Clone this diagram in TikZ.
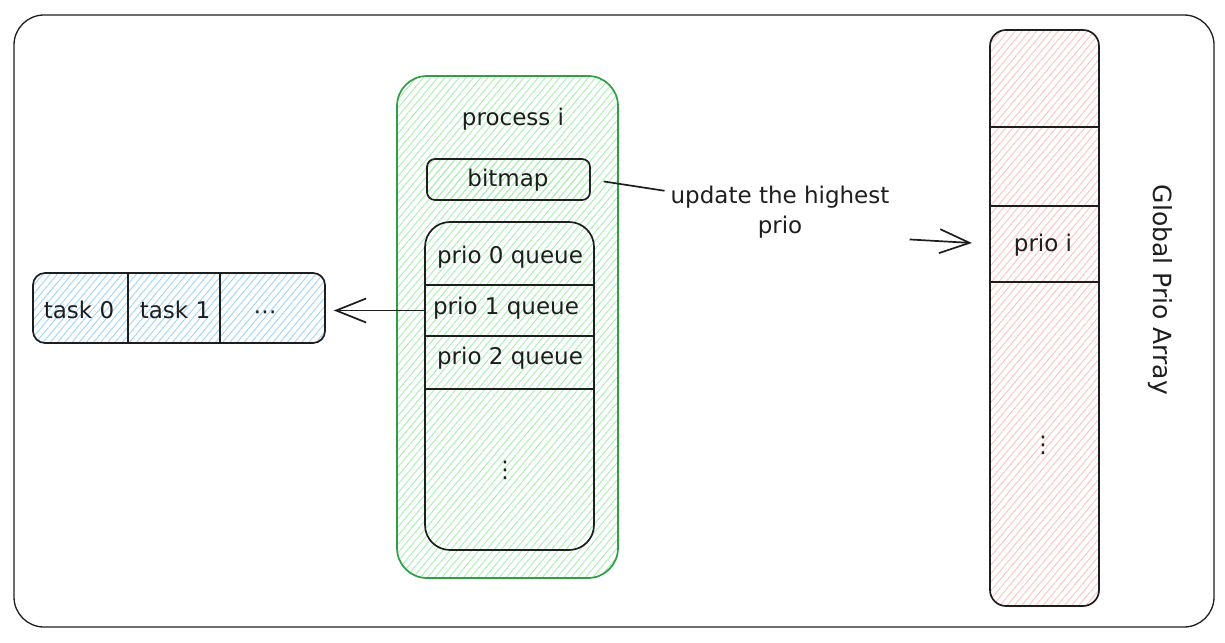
\documentclass[tikz,border=0pt]{standalone}
\usepackage{fontspec}
\setmainfont{DejaVu Sans}
\usetikzlibrary{patterns.meta,arrows.meta,calc}
\definecolor{ink}{HTML}{1E1E1E}
\definecolor{gstroke}{HTML}{2F9E44}
\definecolor{ghatch}{HTML}{A8EEB2}
\definecolor{bhatch}{HTML}{9FD4FC}
\definecolor{rhatch}{HTML}{FCC2C2}
\tikzset{
  box/.style={rectangle, draw=ink, line width=1.7pt, inner sep=0pt},
  hatch/.style={pattern={Lines[angle=50,distance=5.5pt,line width=0.9pt]}, pattern color=#1},
  cell/.style={rectangle, inner sep=0pt, draw=none},
  lbl/.style={font=\fontsize{23}{30}\selectfont, text=ink},
  sep/.style={draw=ink, line width=1.7pt},
  barb/.style={-{Straight Barb[length=30pt,width=24pt]}, line width=1.7pt, draw=ink},
  plain/.style={line width=1.7pt, draw=ink},
}
\begin{document}
\begin{tikzpicture}[x=1pt,y=-1pt]
\useasboundingbox (0,0) rectangle (1225,642);
% outer frame
\node[box, line width=1.3pt, rounded corners=30pt, minimum width=1200pt, minimum height=612pt] (frame) at (614,321) {};

% process box
\node[box, draw=gstroke, hatch=ghatch, rounded corners=30pt, minimum width=221pt, minimum height=502pt] (proc) at (507.5,327) {};
\node[lbl] (proct) at (513,119) {process i};
\node[box, hatch=ghatch, rounded corners=8pt, minimum width=163pt, minimum height=41pt] (bitmap) at (508.5,179.5) {};
\node[lbl] (bitmapt) at (508,180) {bitmap};

% queue box
\node[box, rounded corners=25pt, minimum width=169pt, minimum height=328pt] (queue) at (509.5,386) {};
\node[cell, minimum width=169pt, minimum height=63pt] (q0) at (509.5,253.5) {};
\node[cell, minimum width=169pt, minimum height=51pt] (q1) at (509.5,310.5) {};
\node[cell, minimum width=169pt, minimum height=53pt] (q2) at (509.5,362.5) {};
\node[lbl] (q0t) at (510,257) {prio 0 queue};
\node[lbl] (q1t) at (506,308) {prio 1 queue};
\node[lbl] (q2t) at (510,358) {prio 2 queue};
\draw[sep] (q0.south west) -- (q0.south east);
\draw[sep] (q1.south west) -- (q1.south east);
\draw[sep] (q2.south west) -- (q2.south east);
\node[lbl] (qdots) at (505,470) {⋮};

% task box
\node[box, hatch=bhatch, rounded corners=12pt, minimum width=292pt, minimum height=70pt] (tasks) at (179,308) {};
\node[cell, minimum width=95pt, minimum height=70pt] (t0) at (80.5,308) {};
\node[cell, minimum width=92pt, minimum height=70pt] (t1) at (174,308) {};
\node[cell, minimum width=105pt, minimum height=70pt] (t2) at (272.5,308) {};
\node[lbl] (t0t) at (79,310) {task 0};
\node[lbl] (t1t) at (175,310) {task 1};
\node[lbl] (t2t) at (265,315) {⋯};
\draw[sep] (t0.north east) -- (t0.south east);
\draw[sep] (t1.north east) -- (t1.south east);

% arrow queue -> tasks
\draw[barb, shorten >=8pt] (q1.west) -- (tasks.east |- q1.west);

% global prio array
\node[box, hatch=rhatch, rounded corners=16pt, minimum width=109pt, minimum height=576pt] (parr) at (1044.5,318) {};
\node[cell, minimum width=109pt, minimum height=97pt] (c0) at (1044.5,78.5) {};
\node[cell, minimum width=109pt, minimum height=79pt] (c1) at (1044.5,166.5) {};
\node[cell, minimum width=109pt, minimum height=76pt] (c2) at (1044.5,244) {};
\draw[sep] (c0.south west) -- (c0.south east);
\draw[sep] (c1.south west) -- (c1.south east);
\draw[sep] (c2.south west) -- (c2.south east);
\node[lbl] (c2t) at (1043,245) {prio i};
\node[lbl] (pdots) at (1043,445) {⋮};
\node[lbl, font=\fontsize{25}{30}\selectfont, rotate=-90] (gpa) at (1160,290) {Global Prio Array};

% update label and connector
\node[lbl, align=center, inner sep=0pt] (upd) at (780,212) {update the highest\\prio};
\draw[plain, shorten <=13pt, shorten >=6pt] (bitmap.east) -- ($(upd.north west)+(0,6)$);
\draw[barb, shorten <=20pt, shorten >=18pt] (upd.south east) -- (c2.west);
\end{tikzpicture}
\end{document}
